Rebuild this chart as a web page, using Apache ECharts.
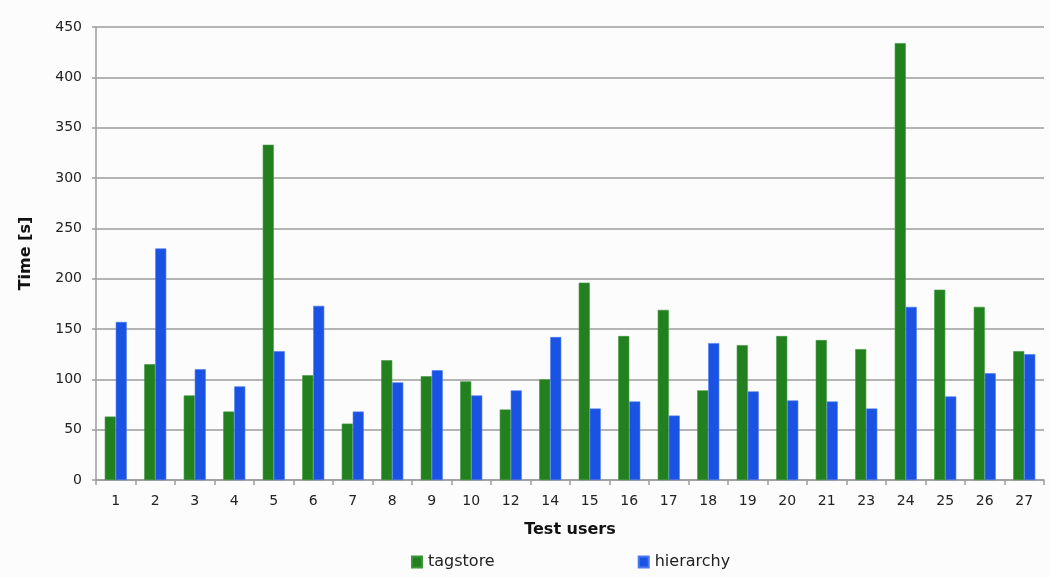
<!DOCTYPE html>
<html>
<head>
	<meta charset="UTF-8">
	<title>Test users time</title>
	<script src="https://cdn.jsdelivr.net/npm/echarts@6/dist/echarts.min.js"></script>
	<style>
		html, body { margin: 0; padding: 0; background: #fcfcfc; }
		#main { width: 1050px; height: 577px; }
	</style>
</head>
<body>
	<div id="main"></div>
	<script type="text/javascript">
		// test users (x axis)
		var userList = ['1', '2', '3', '4', '5', '6', '7', '8', '9', '10', '12', '14', '15', '16', '17',
			'18', '19', '20', '21', '23', '24', '25', '26', '27'];
		// times in seconds
		var tagstore = [63, 115, 84, 68, 333, 104, 56, 119, 103, 98, 70, 100, 196, 143, 169,
			89, 134, 143, 139, 130, 434, 189, 172, 128];
		var hierarchy = [157, 230, 110, 93, 128, 173, 68, 97, 109, 84, 89, 142, 71, 78, 64,
			136, 88, 79, 78, 71, 172, 83, 106, 125];

		var gridColor = '#9c9c9c';
		var font = 'DejaVu Sans';

		var myChart = echarts.init(document.getElementById('main'));
		var option = {
			backgroundColor: '#fcfcfc',
			animation: false,
			grid: {
				left: 96,
				right: 6,
				top: 27,
				bottom: 97
			},
			legend: {
				bottom: 7,
				left: 411,
				padding: 0,
				itemGap: 143,
				itemWidth: 10,
				itemHeight: 11,
				icon: 'rect',
				textStyle: {
					fontFamily: font,
					fontSize: 16,
					color: '#222',
					padding: [0, 0, 0, 1]
				},
				data: ['tagstore', 'hierarchy']
			},
			xAxis: {
				type: 'category',
				data: userList,
				name: 'Test users',
				nameLocation: 'middle',
				nameGap: 42,
				nameTextStyle: {
					fontFamily: font,
					fontSize: 16,
					fontWeight: 'bold',
					color: '#111'
				},
				axisLine: { lineStyle: { color: gridColor, width: 1.5 } },
				axisTick: { show: true, length: 5, lineStyle: { color: gridColor, width: 1.5 } },
				axisLabel: {
					margin: 14,
					fontFamily: font,
					fontSize: 14,
					color: '#222'
				}
			},
			yAxis: {
				type: 'value',
				min: 0,
				max: 450,
				interval: 50,
				name: 'Time [s]',
				nameLocation: 'middle',
				nameGap: 62,
				nameTextStyle: {
					fontFamily: font,
					fontSize: 16,
					fontWeight: 'bold',
					color: '#111'
				},
				axisLine: { show: true, lineStyle: { color: gridColor, width: 1.5 } },
				axisTick: { show: true, length: 4, lineStyle: { color: gridColor, width: 1.5 } },
				splitLine: { lineStyle: { color: gridColor, width: 1.5 } },
				axisLabel: {
					margin: 14,
					fontFamily: font,
					fontSize: 14,
					color: '#222'
				}
			},
			series: [{
				name: 'tagstore',
				type: 'bar',
				barWidth: 11,
				barGap: '0%',
				itemStyle: {
					color: '#23801f',
					borderColor: '#3b963a',
					borderWidth: 0.6
				},
				data: tagstore
			}, {
				name: 'hierarchy',
				type: 'bar',
				barWidth: 11,
				barGap: '0%',
				itemStyle: {
					color: '#1a52e4',
					borderColor: '#4a78ee',
					borderWidth: 0.6
				},
				data: hierarchy
			}]
		};
		myChart.setOption(option);
	</script>
</body>
</html>
